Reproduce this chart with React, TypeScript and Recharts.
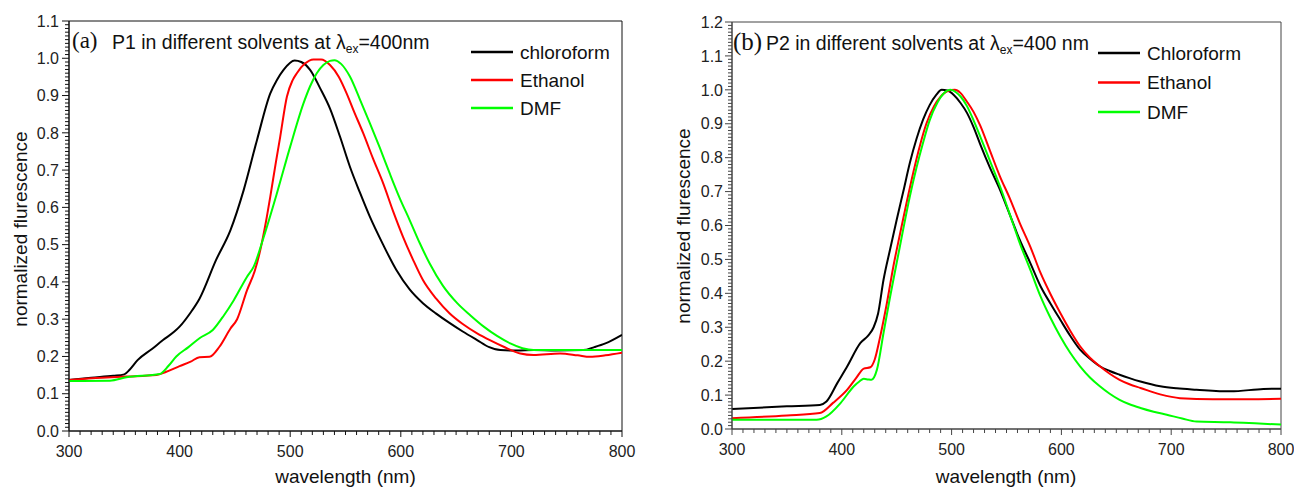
import React from 'react';
import { LineChart, Line, XAxis, YAxis, ReferenceArea } from 'recharts';

// panel (a): P1
const p1ChloroWl = [300, 320, 340, 350, 355, 362, 375, 385, 395, 400, 410, 418, 433, 446, 458, 470, 482, 488, 494, 504, 510, 518, 527, 536, 545, 554, 563, 572, 584, 596, 608, 620, 632, 644, 656, 669, 680, 690, 705, 720, 740, 765, 775, 785, 800];
const p1ChloroVal = [0.137, 0.143, 0.148, 0.152, 0.165, 0.19, 0.22, 0.244, 0.266, 0.28, 0.318, 0.355, 0.459, 0.539, 0.647, 0.781, 0.906, 0.942, 0.969, 0.994, 0.99, 0.969, 0.92, 0.865, 0.79, 0.709, 0.64, 0.575, 0.5, 0.432, 0.38, 0.343, 0.315, 0.29, 0.267, 0.244, 0.225, 0.217, 0.216, 0.217, 0.216, 0.217, 0.225, 0.235, 0.258];

const p1EthWl = [300, 330, 352, 379, 388, 400, 410, 418, 427, 436, 446, 452, 461, 468, 473, 478, 482, 487, 491, 497, 502, 506, 513, 521, 528, 536, 544, 551, 558, 566, 575, 584, 593, 602, 611, 620, 632, 644, 656, 669, 681, 693, 708, 720, 744, 760, 771, 785, 800];
const p1EthVal = [0.137, 0.143, 0.146, 0.15, 0.159, 0.174, 0.186, 0.198, 0.199, 0.226, 0.275, 0.3, 0.378, 0.43, 0.486, 0.56, 0.629, 0.72, 0.79, 0.897, 0.94, 0.96, 0.985, 0.997, 0.997, 0.982, 0.95, 0.906, 0.855, 0.799, 0.73, 0.665, 0.59, 0.521, 0.46, 0.405, 0.355, 0.316, 0.287, 0.262, 0.243, 0.226, 0.208, 0.204, 0.208, 0.203, 0.199, 0.203, 0.21];

const p1DmfWl = [300, 337, 352, 382, 390, 397, 408, 418, 430, 440, 449, 461, 467, 476, 488, 500, 512, 518, 524, 530, 536, 540, 546, 554, 563, 572, 581, 590, 599, 608, 617, 626, 638, 651, 663, 675, 687, 699, 710, 720, 765, 800];
const p1DmfVal = [0.134, 0.135, 0.144, 0.153, 0.175, 0.2, 0.225, 0.249, 0.271, 0.31, 0.351, 0.414, 0.441, 0.52, 0.638, 0.763, 0.879, 0.925, 0.96, 0.982, 0.993, 0.995, 0.985, 0.951, 0.89, 0.826, 0.76, 0.691, 0.625, 0.566, 0.505, 0.45, 0.39, 0.343, 0.31, 0.28, 0.255, 0.235, 0.222, 0.217, 0.217, 0.217];

// panel (b): P2
const p2ChloroWl = [300, 350, 380, 386, 396, 405, 417, 424, 429, 433, 438, 444, 450, 456, 462, 468, 474, 480, 486, 491, 496, 502, 508, 514, 520, 526, 535, 544, 553, 562, 572, 581, 590, 599, 608, 617, 626, 635, 644, 653, 662, 672, 690, 705, 723, 754, 784, 800];
const p2ChloroVal = [0.059, 0.067, 0.071, 0.081, 0.136, 0.185, 0.254, 0.275, 0.3, 0.34, 0.44, 0.53, 0.617, 0.7, 0.785, 0.855, 0.912, 0.955, 0.985, 1.0, 0.998, 0.985, 0.962, 0.932, 0.89, 0.84, 0.77, 0.706, 0.632, 0.558, 0.487, 0.421, 0.37, 0.322, 0.275, 0.234, 0.207, 0.185, 0.171, 0.16, 0.15, 0.14, 0.126, 0.12, 0.116, 0.111, 0.118, 0.119];

const p2EthWl = [300, 350, 380, 392, 405, 413, 420, 426, 430, 435, 441, 447, 453, 459, 465, 471, 477, 484, 490, 496, 503, 508, 514, 520, 526, 535, 544, 553, 562, 572, 581, 590, 599, 608, 617, 626, 635, 644, 653, 662, 672, 690, 708, 738, 770, 800];
const p2EthVal = [0.032, 0.04, 0.047, 0.077, 0.116, 0.15, 0.178, 0.182, 0.205, 0.273, 0.37, 0.48, 0.575, 0.667, 0.755, 0.834, 0.9, 0.952, 0.98, 0.996, 1.0, 0.991, 0.965, 0.935, 0.895, 0.82, 0.745, 0.68, 0.608, 0.535, 0.46, 0.398, 0.342, 0.29, 0.244, 0.21, 0.185, 0.163, 0.145, 0.132, 0.121, 0.102, 0.091, 0.088, 0.088, 0.089];

const p2DmfWl = [300, 377, 386, 399, 411, 416, 420, 424, 427, 432, 438, 444, 450, 456, 462, 468, 474, 480, 487, 493, 499, 504, 508, 514, 520, 526, 535, 544, 553, 562, 572, 581, 590, 599, 608, 617, 626, 635, 644, 653, 662, 672, 684, 696, 710, 723, 754, 780, 800];
const p2DmfVal = [0.027, 0.027, 0.037, 0.077, 0.126, 0.14, 0.148, 0.146, 0.145, 0.175, 0.283, 0.39, 0.49, 0.59, 0.686, 0.77, 0.844, 0.91, 0.962, 0.99, 1.0, 0.993, 0.981, 0.952, 0.91, 0.863, 0.79, 0.716, 0.633, 0.549, 0.467, 0.391, 0.328, 0.273, 0.225, 0.185, 0.152, 0.126, 0.104, 0.086, 0.073, 0.062, 0.051, 0.042, 0.031, 0.022, 0.02, 0.016, 0.013];

const seriesNamesA = ['chloroform', 'Ethanol', 'DMF'];
const seriesNamesB = ['Chloroform', 'Ethanol', 'DMF'];
const seriesColors = ['#000000', '#ff0000', '#00ff00'];

// tick positions (major every 100 nm / 0.1, minor every 10 nm / 0.01)
const xTicks = Array.from({ length: 51 }, (_, i) => 300 + i * 10);
const yTicksA = Array.from({ length: 111 }, (_, i) => i / 100);
const yTicksB = Array.from({ length: 121 }, (_, i) => i / 100);

const FONT = '"Liberation Sans", Arial, sans-serif';
const SERIF = '"Liberation Serif", "Times New Roman", serif';

const toPoints = (wl: number[], val: number[]) => wl.map((w, i) => ({ wl: w, v: val[i] }));

const XTick = (props: any) => {
  const { x, y, payload, color } = props;
  const major = payload.value % 100 === 0;
  return (
    <g>
      <line x1={x} x2={x} y1={y} y2={y + (major ? 6 : 4)} stroke={color} strokeWidth={1} />
      {major && (
        <text x={x} y={y + 26} textAnchor="middle" fontSize={16} fontFamily={FONT} fill="#222">
          {payload.value}
        </text>
      )}
    </g>
  );
};

const YTick = (props: any) => {
  const { x, y, payload, color, gap } = props;
  const k = Math.round(payload.value * 100);
  const major = k % 10 === 0;
  return (
    <g>
      <line x1={x - (major ? 7 : 4)} x2={x} y1={y} y2={y} stroke={color} strokeWidth={1} />
      {major && (
        <text x={x - gap} y={y + 5.7} textAnchor="end" fontSize={16} fontFamily={FONT} fill="#222">
          {(k / 100).toFixed(1)}
        </text>
      )}
    </g>
  );
};

function Panel({
  series,
  yMax,
  yTicks,
  width,
  margin,
  yWidth,
  xHeight,
  frame,
  gap,
}: {
  series: { wl: number; v: number }[][];
  yMax: number;
  yTicks: number[];
  width: number;
  margin: { top: number; right: number; left: number; bottom: number };
  yWidth: number;
  xHeight: number;
  frame: string;
  gap: number;
}) {
  return (
    <LineChart width={width} height={490} margin={margin}>
      <XAxis
        dataKey="wl"
        type="number"
        domain={[300, 800]}
        ticks={xTicks}
        interval={0}
        height={xHeight}
        tickSize={0}
        tickMargin={0}
        tickLine={false}
        axisLine={{ stroke: frame }}
        tick={<XTick color={frame} />}
        allowDataOverflow
      />
      <YAxis
        type="number"
        domain={[0, yMax]}
        ticks={yTicks}
        interval={0}
        width={yWidth}
        tickSize={0}
        tickMargin={0}
        tickLine={false}
        axisLine={{ stroke: frame }}
        tick={<YTick color={frame} gap={gap} />}
        allowDataOverflow
      />
      <ReferenceArea x1={300} x2={800} y1={0} y2={yMax} fill="none" stroke={frame} strokeWidth={1} />
      {series.map((d, i) => (
        <Line
          key={i}
          data={d}
          dataKey="v"
          type="monotone"
          stroke={seriesColors[i]}
          strokeWidth={2}
          dot={false}
          isAnimationActive={false}
        />
      ))}
    </LineChart>
  );
}

export default function App() {
  const seriesA = [toPoints(p1ChloroWl, p1ChloroVal), toPoints(p1EthWl, p1EthVal), toPoints(p1DmfWl, p1DmfVal)];
  const seriesB = [toPoints(p2ChloroWl, p2ChloroVal), toPoints(p2EthWl, p2EthVal), toPoints(p2DmfWl, p2DmfVal)];

  return (
    <div style={{ position: 'absolute', left: 0, top: 0, width: 1294, height: 490, background: '#fff' }}>
      <div style={{ position: 'absolute', left: 0, top: 0 }}>
        <Panel
          series={seriesA}
          yMax={1.1}
          yTicks={yTicksA}
          width={650}
          margin={{ top: 21, right: 28, left: 0, bottom: 0 }}
          yWidth={69}
          xHeight={59}
          frame="#111"
          gap={10}
        />
      </div>
      <div style={{ position: 'absolute', left: 660, top: 0 }}>
        <Panel
          series={seriesB}
          yMax={1.2}
          yTicks={yTicksB}
          width={634}
          margin={{ top: 22, right: 13, left: 0, bottom: 0 }}
          yWidth={72}
          xHeight={61}
          frame="#444"
          gap={9}
        />
      </div>
      <svg
        width={1294}
        height={490}
        style={{ position: 'absolute', left: 0, top: 0, pointerEvents: 'none' }}
      >
        {/* panel titles */}
        <text x={72} y={48} fontSize={23} fontFamily={SERIF} fill="#111">(a)</text>
        <text x={112} y={49} fontSize={19.5} fontFamily={FONT} fill="#111">
          P1 in different solvents at λ<tspan fontSize={12} dy={4}>ex</tspan>
          <tspan dy={-4}>=400nm</tspan>
        </text>
        <text x={733} y={50} fontSize={25} fontFamily={SERIF} fill="#111">(b)</text>
        <text x={766} y={50} fontSize={19.5} fontFamily={FONT} fill="#111">
          P2 in different solvents at λ<tspan fontSize={12} dy={4}>ex</tspan>
          <tspan dy={-4}>=400 nm</tspan>
        </text>

        {/* legends */}
        {seriesNamesA.map((n, i) => (
          <g key={n}>
            <line x1={471} x2={513} y1={52 + i * 28} y2={52 + i * 28} stroke={seriesColors[i]} strokeWidth={2.5} />
            <text x={520} y={52 + i * 28 + 6.7} fontSize={19} fontFamily={FONT} fill="#111">{n}</text>
          </g>
        ))}
        {seriesNamesB.map((n, i) => (
          <g key={n}>
            <line x1={1098} x2={1140} y1={53 + i * 29.5} y2={53 + i * 29.5} stroke={seriesColors[i]} strokeWidth={2.5} />
            <text x={1147} y={53 + i * 29.5 + 6.7} fontSize={19} fontFamily={FONT} fill="#111">{n}</text>
          </g>
        ))}

        {/* axis titles */}
        <text x={345.5} y={483} textAnchor="middle" fontSize={19} fontFamily={FONT} fill="#111">wavelength (nm)</text>
        <text x={1006} y={483} textAnchor="middle" fontSize={19} fontFamily={FONT} fill="#111">wavelength (nm)</text>
        <text transform="translate(27,229) rotate(-90)" textAnchor="middle" fontSize={19} fontFamily={FONT} fill="#111">
          normalized flurescence
        </text>
        <text transform="translate(690,226) rotate(-90)" textAnchor="middle" fontSize={19} fontFamily={FONT} fill="#111">
          normalized flurescence
        </text>
      </svg>
    </div>
  );
}
